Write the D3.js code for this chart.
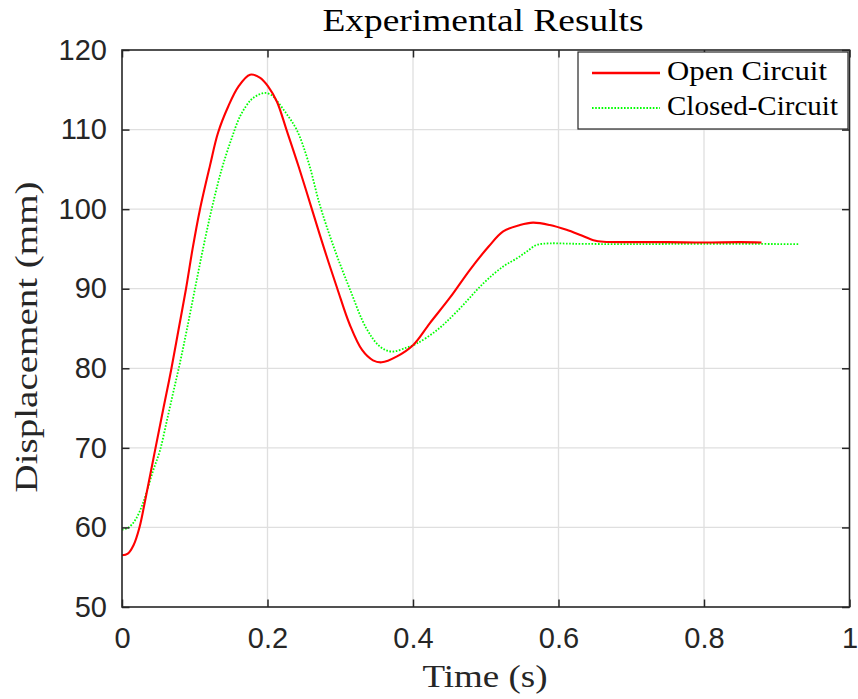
<!DOCTYPE html>
<html>
<head>
<meta charset="utf-8">
<script src="https://cdn.jsdelivr.net/npm/d3@7"></script>
<style>
  html, body { margin: 0; padding: 0; background: #fff; }
  svg { display: block; }
</style>
</head>
<body>
<svg id="chart" width="858" height="699"></svg>
<script>
// ---------------- data ----------------
const xTicks = [0, 0.2, 0.4, 0.6, 0.8, 1];
const xTickLabels = ["0", "0.2", "0.4", "0.6", "0.8", "1"];
const yTicks = [50, 60, 70, 80, 90, 100, 110, 120];
const yTickLabels = ["50", "60", "70", "80", "90", "100", "110", "120"];

const seriesNames = ["Open Circuit", "Closed-Circuit"];

const openT = [0, 0.008, 0.016, 0.024, 0.031, 0.045, 0.057, 0.068, 0.078, 0.088, 0.097, 0.107, 0.121, 0.132, 0.146, 0.160, 0.176, 0.190, 0.201, 0.213, 0.226, 0.243, 0.261, 0.278, 0.296, 0.313, 0.330, 0.345, 0.357, 0.378, 0.400, 0.423, 0.451, 0.478, 0.504, 0.524, 0.547, 0.565, 0.588, 0.611, 0.630, 0.648, 0.662, 0.70, 0.75, 0.80, 0.85, 0.879];
const openV = [56.5, 56.7, 57.8, 60.0, 63.0, 69.5, 75.0, 80.0, 85.0, 90.0, 95.0, 99.9, 105.5, 109.6, 112.9, 115.4, 116.9, 116.5, 115.4, 113.5, 110.0, 105.3, 100.0, 95.0, 90.0, 85.5, 82.3, 81.0, 80.75, 81.5, 82.9, 85.65, 88.9, 92.35, 95.3, 97.2, 98.0, 98.3, 98.0, 97.4, 96.75, 96.1, 95.9, 95.85, 95.85, 95.8, 95.85, 95.8];

const closedT = [0, 0.009, 0.018, 0.027, 0.034, 0.043, 0.052, 0.0614, 0.0705, 0.0797, 0.089, 0.1003, 0.112, 0.124, 0.137, 0.150, 0.163, 0.177, 0.188, 0.197, 0.206, 0.213, 0.226, 0.240, 0.256, 0.272, 0.292, 0.313, 0.336, 0.355, 0.371, 0.391, 0.405, 0.433, 0.460, 0.497, 0.524, 0.5425, 0.556, 0.570, 0.588, 0.62, 0.70, 0.80, 0.93];
const closedV = [59.7, 60.0, 60.9, 62.6, 64.5, 67.2, 69.6, 73.3, 77.0, 80.7, 84.8, 90.0, 95.3, 100.3, 105.0, 108.7, 111.8, 113.7, 114.4, 114.6, 114.3, 113.6, 112.0, 110.0, 106.0, 100.5, 95.0, 90.0, 85.0, 82.7, 82.1, 82.6, 83.1, 84.8, 87.1, 90.7, 92.8, 93.8, 94.65, 95.5, 95.7, 95.65, 95.6, 95.65, 95.6];

// ---------------- layout ----------------
const svg = d3.select("#chart");
const L = 122, R = 849.5, T = 50, B = 607;
const axisColor = "#262626";
const gridColor = "#dfdfdf";
const serif = "'Liberation Serif', 'Times New Roman', serif";
const sans = "'Liberation Sans', Arial, Helvetica, sans-serif";

const x = d3.scaleLinear().domain([0, 1]).range([L, R]);
const y = d3.scaleLinear().domain([50, 120]).range([B, T]);

// grid
const grid = svg.append("g");
grid.selectAll("line.gx").data(xTicks.slice(1, -1)).enter().append("line")
  .attr("x1", d => x(d)).attr("x2", d => x(d)).attr("y1", T).attr("y2", B)
  .attr("stroke", gridColor).attr("stroke-width", 1.3);
grid.selectAll("line.gy").data(yTicks.slice(1, -1)).enter().append("line")
  .attr("y1", d => y(d)).attr("y2", d => y(d)).attr("x1", L).attr("x2", R)
  .attr("stroke", gridColor).attr("stroke-width", 1.3);

// lines
const mkLine = (ts, vs) => d3.line().curve(d3.curveCatmullRom.alpha(0.5))
  .x((d, i) => x(ts[i])).y((d, i) => y(vs[i]))(vs);

svg.append("path").attr("d", mkLine(closedT, closedV))
  .attr("fill", "none").attr("stroke", "#00ff00").attr("stroke-width", 1.8)
  .attr("stroke-dasharray", "1.6,1.6");
svg.append("path").attr("d", mkLine(openT, openV))
  .attr("fill", "none").attr("stroke", "#ff0000").attr("stroke-width", 2.1);

// axes (box with inward ticks)
const tickLen = 7.5;
const axG = svg.append("g");
const xb = d3.axisBottom(x).tickValues(xTicks).tickSize(-tickLen).tickFormat((d, i) => xTickLabels[i]).tickPadding(20);
const yl = d3.axisLeft(y).tickValues(yTicks).tickSize(-tickLen).tickFormat((d, i) => yTickLabels[i]).tickPadding(15);
const xt = d3.axisTop(x).tickValues(xTicks).tickSize(-tickLen).tickFormat("");
const yr = d3.axisRight(y).tickValues(yTicks).tickSize(-tickLen).tickFormat("");

function styleAxis(g) {
  g.select(".domain").remove();
  g.selectAll(".tick line").attr("stroke", axisColor).attr("stroke-width", 1.5);
  g.selectAll(".tick text").attr("fill", axisColor).style("font-family", sans).style("font-size", "29px");
}
axG.append("g").attr("transform", `translate(0,${B})`).call(xb).call(styleAxis);
axG.append("g").attr("transform", `translate(${L},0)`).call(yl).call(styleAxis);
axG.append("g").attr("transform", `translate(0,${T})`).call(xt).call(styleAxis);
axG.append("g").attr("transform", `translate(${R},0)`).call(yr).call(styleAxis);

axG.append("rect").attr("x", L).attr("y", T).attr("width", R - L).attr("height", B - T)
  .attr("fill", "none").attr("stroke", axisColor).attr("stroke-width", 1.6);

// titles
svg.append("text").attr("x", 483).attr("y", 31).attr("text-anchor", "middle")
  .style("font-family", serif).style("font-size", "32px").attr("fill", "#000")
  .attr("textLength", 321).attr("lengthAdjust", "spacingAndGlyphs")
  .text("Experimental Results");
svg.append("text").attr("x", 485).attr("y", 687).attr("text-anchor", "middle")
  .style("font-family", serif).style("font-size", "32px").attr("fill", "#262626")
  .attr("textLength", 125).attr("lengthAdjust", "spacingAndGlyphs")
  .text("Time (s)");
svg.append("text").attr("transform", "translate(37,337) rotate(-90)").attr("text-anchor", "middle")
  .style("font-family", serif).style("font-size", "32px").attr("fill", "#262626")
  .attr("textLength", 311).attr("lengthAdjust", "spacingAndGlyphs")
  .text("Displacement (mm)");

// legend
const lg = svg.append("g");
lg.append("rect").attr("x", 578).attr("y", 52).attr("width", 270).attr("height", 77)
  .attr("fill", "#fff").attr("stroke", axisColor).attr("stroke-width", 1.2);
const legendY = [73, 108];
const legendW = [160, 171];
const legendStyle = [
  { color: "#ff0000", width: 2.6, dash: null },
  { color: "#00ff00", width: 2, dash: "1.6,1.6" }
];
seriesNames.forEach((name, i) => {
  const ln = lg.append("line").attr("x1", 592).attr("x2", 660)
    .attr("y1", legendY[i]).attr("y2", legendY[i])
    .attr("stroke", legendStyle[i].color).attr("stroke-width", legendStyle[i].width);
  if (legendStyle[i].dash) ln.attr("stroke-dasharray", legendStyle[i].dash);
  lg.append("text").attr("x", 667).attr("y", legendY[i] + 7)
    .style("font-family", serif).style("font-size", "27px").attr("fill", "#000")
    .attr("textLength", legendW[i]).attr("lengthAdjust", "spacingAndGlyphs")
    .text(name);
});
</script>
</body>
</html>
